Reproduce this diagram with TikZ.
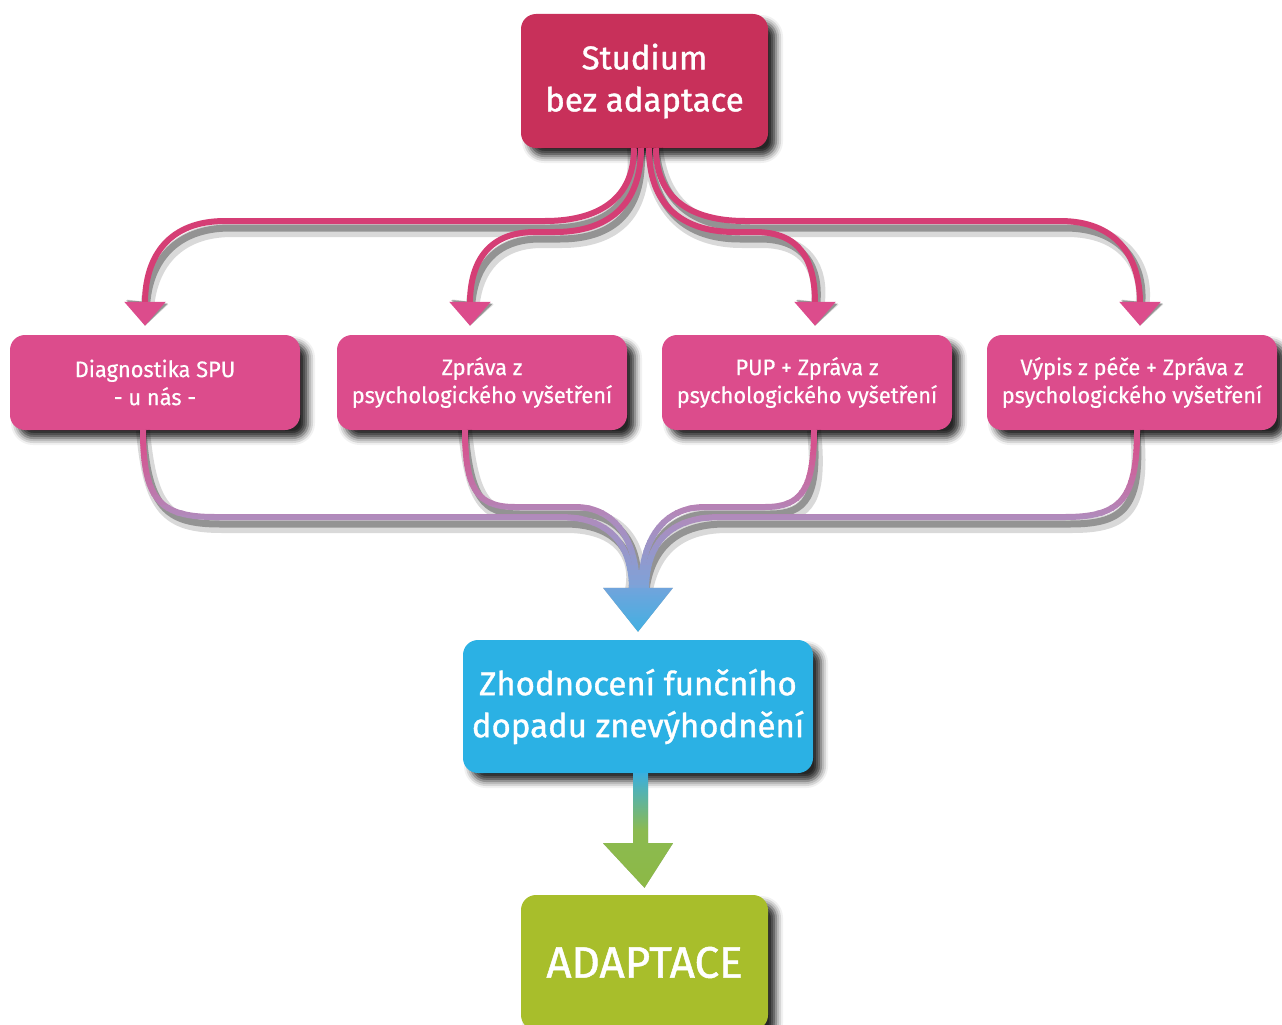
\documentclass[tikz,border=0pt]{standalone}
\usepackage{fontspec}
\setmainfont{Fira Sans}
\newfontfamily\medfont{Fira Sans}[FakeBold=1.1]
\newfontfamily\smallfont{Fira Sans}[FakeBold=0.5, FakeStretch=0.97]
\usetikzlibrary{arrows.meta,shadows.blur,calc}
\definecolor{topred}{RGB}{200,48,90}
\definecolor{pinkbox}{RGB}{220,76,140}
\definecolor{topline}{RGB}{213,62,117}
\definecolor{pinkL}{RGB}{214,82,142}
\definecolor{lavL}{RGB}{176,139,188}
\definecolor{blueL}{RGB}{122,164,218}
\definecolor{arrTop}{RGB}{112,164,220}
\definecolor{arrBot}{RGB}{66,176,226}
\definecolor{evalblue}{RGB}{43,177,228}
\definecolor{adaptgreen}{RGB}{168,190,43}
\definecolor{barTop}{RGB}{58,175,222}
\definecolor{barBot}{RGB}{140,186,80}
\definecolor{tipgreen}{RGB}{140,185,70}
\begin{document}
\begin{tikzpicture}[x=1pt,y=-1pt,
  box/.style={rounded corners=15pt, text=white, align=center, inner sep=0pt,
    blur shadow={shadow xshift=8pt, shadow yshift=-8pt, shadow blur radius=7pt, shadow opacity=85}},
  smallbox/.style={box, fill=pinkbox, minimum width=290pt, minimum height=95pt,
    font=\smallfont\fontsize{22.5}{28}\selectfont},
  bigbox/.style={box, font=\medfont\fontsize{33}{42}\selectfont},
  topconn/.style={draw=topline, line width=6pt, -{Triangle[width=40pt,length=24pt,color=pinkbox]}},
  topshadow/.style={draw=black, line width=#1, -{Triangle[width=40pt,length=24pt]}},
  botconn/.style={line width=6pt},
  botshadow/.style={draw=black, line width=#1},
]
\useasboundingbox (0,0) rectangle (1282,1025);

% ---------------- nodes
\node[bigbox, fill=topred, minimum width=247pt, minimum height=134pt] (top) at (644.5,81) {Studium\\bez adaptace};
\node[smallbox] (b1) at (155,382.5) {Diagnostika SPU\\- u nás -};
\node[smallbox] (b2) at (482,382.5) {Zpráva z\\psychologického vyšetření};
\node[smallbox] (b3) at (807,382.5) {PUP + Zpráva z\\psychologického vyšetření};
\node[smallbox] (b4) at (1132,382.5) {Výpis z péče + Zpráva z\\psychologického vyšetření};
\node[bigbox, fill=evalblue, minimum width=350pt, minimum height=133pt] (eval) at (638,706.5) {Zhodnocení funčního\\dopadu znevýhodnění};
\node[box, fill=adaptgreen, minimum width=247pt, minimum height=135pt, font=\medfont\fontsize{44}{50}\selectfont] (adapt) at (644.5,962.5) {ADAPTACE};

% ---------------- path definitions
\def\pA{([xshift=-10.5pt]top.south) .. controls (634,205) and (590,221) .. (545,221) -- (225,221) .. controls (170,221) and (145,255) .. ([xshift=-10pt,yshift=9pt]b1.north)}
\def\pB{([xshift=-3.5pt]top.south) .. controls (641,212) and (600,232) .. (555,232) -- (535,232) .. controls (490,232) and (470,260) .. ([xshift=-12pt,yshift=9pt]b2.north)}
\def\pC{([xshift=4.5pt]top.south) .. controls (649,212) and (690,232) .. (735,232) -- (755,232) .. controls (800,232) and (815,260) .. ([xshift=8pt,yshift=9pt]b3.north)}
\def\pD{([xshift=11.5pt]top.south) .. controls (656,205) and (700,221) .. (745,221) -- (1060,221) .. controls (1115,221) and (1140,255) .. ([xshift=8pt,yshift=9pt]b4.north)}
\def\lA{([xshift=-12pt]b1.south) .. controls (143,500) and (160,517) .. (215,517) -- (560,517) .. controls (610,517) and (632,545) .. ([xshift=-6pt,yshift=50pt]eval.north)}
\def\lB{([xshift=-17pt]b2.south) .. controls (465,490) and (478,507) .. (515,507) -- (575,507) .. controls (615,507) and (637,540) .. ([xshift=-1pt,yshift=50pt]eval.north)}
\def\lC{([xshift=7pt]b3.south) .. controls (814,490) and (801,507) .. (765,507) -- (705,507) .. controls (663,507) and (641,540) .. ([xshift=3pt,yshift=50pt]eval.north)}
\def\lD{([xshift=5pt]b4.south) .. controls (1137,500) and (1120,517) .. (1065,517) -- (720,517) .. controls (668,517) and (646,545) .. ([xshift=8pt,yshift=50pt]eval.north)}

% ---------------- shadows of connectors
\begin{scope}[transparency group, opacity=0.15, shift={(7,9)}]
  \foreach \p in {\pA,\pB,\pC,\pD}{\draw[topshadow=14pt] \p;}
  \foreach \p in {\lA,\lB,\lC,\lD}{\draw[botshadow=14pt] \p;}
\end{scope}
\begin{scope}[transparency group, opacity=0.32, shift={(5,7)}]
  \foreach \p in {\pA,\pB,\pC,\pD}{\draw[topshadow=7pt] \p;}
  \foreach \p in {\lA,\lB,\lC,\lD}{\draw[botshadow=7pt] \p;}
  \fill ([xshift=-35pt,yshift=52pt]eval.north) -- ([xshift=35pt,yshift=52pt]eval.north) -- ([yshift=8pt]eval.north) -- cycle;
  \fill ([xshift=-5pt]eval.south) -- ([xshift=10pt]eval.south) -- ([xshift=10pt,yshift=-70pt]eval.south)
     -- ([xshift=35pt,yshift=-70pt]eval.south) -- ([yshift=7pt]adapt.north) -- ([xshift=-35pt,yshift=-70pt]eval.south)
     -- ([xshift=-5pt,yshift=-70pt]eval.south) -- cycle;
\end{scope}

% ---------------- top connectors
\foreach \p in {\pA,\pB,\pC,\pD}{\draw[topconn] \p;}

% ---------------- bottom connectors with vertical gradient
\foreach \i in {0,...,36}{
  \pgfmathsetmacro\ya{425+5*\i}
  \pgfmathsetmacro\yb{\ya+5.6}
  \pgfmathsetmacro\ym{\ya+2.5}
  \pgfmathtruncatemacro\pa{max(0,min(100,(\ym-445)/72*100))}
  \pgfmathtruncatemacro\pb{max(0,min(100,(\ym-517)/73*100))}
  \colorlet{tmpc}{lavL!\pa!pinkL}
  \colorlet{bandc}{blueL!\pb!tmpc}
  \begin{scope}
    \clip (0,\ya) rectangle (1282,\yb);
    \foreach \p in {\lA,\lB,\lC,\lD}{\draw[botconn, draw=bandc] \p;}
  \end{scope}
}
% big arrowhead into evaluation box
\shade[top color=arrTop, bottom color=arrBot]
  ([xshift=-35pt,yshift=52pt]eval.north) -- ([xshift=35pt,yshift=52pt]eval.north) -- ([yshift=8pt]eval.north) -- cycle;

% ---------------- arrow from evaluation to adaptation
\shade[top color=barTop, bottom color=tipgreen, middle color=barBot]
  ([xshift=-5pt]eval.south) -- ([xshift=10pt]eval.south) -- ([xshift=10pt,yshift=-70pt]eval.south)
  -- ([xshift=35pt,yshift=-70pt]eval.south) -- ([yshift=7pt]adapt.north) -- ([xshift=-35pt,yshift=-70pt]eval.south)
  -- ([xshift=-5pt,yshift=-70pt]eval.south) -- cycle;
\end{tikzpicture}
\end{document}
